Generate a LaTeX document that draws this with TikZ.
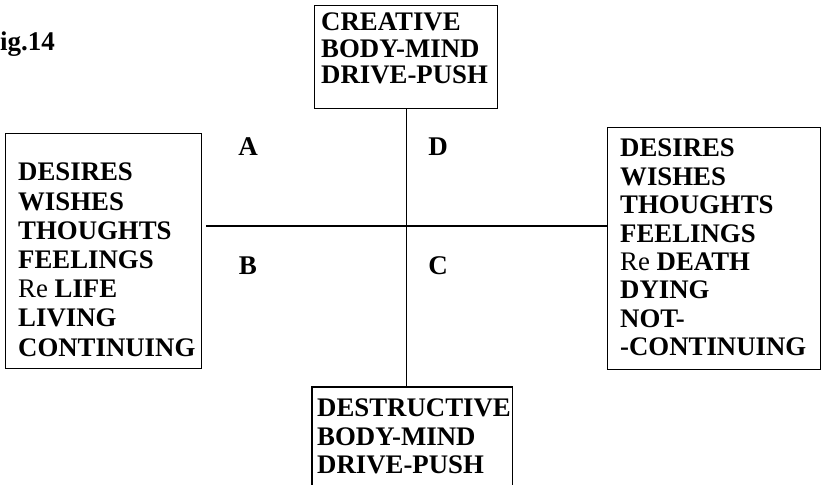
\documentclass[tikz,border=0pt]{standalone}
\usepackage{fontspec}
\setmainfont{Liberation Serif}
\begin{document}
\begin{tikzpicture}[x=1pt,y=-1pt,
  box/.style={draw, line width=1.4pt, inner sep=0pt, anchor=north west},
  words/.style={inner sep=0pt, anchor=north west, align=left, font=\fontsize{26.8}{#1}\selectfont\bfseries},
  letter/.style={inner sep=0pt, font=\fontsize{27}{28}\selectfont\bfseries},
  link/.style={line width=1.4pt}]
\useasboundingbox (0,0) rectangle (823,485);
% caption
\node[letter, anchor=base west] (fig) at (0,50) {ig.14};
% boxes
\node[box, minimum width=183pt, minimum height=103pt] (top) at (314,5) {};
\node[box, minimum width=196pt, minimum height=235pt] (left) at (5,133) {};
\node[box, minimum width=213pt, minimum height=242pt] (right) at (607,127) {};
\node[inner sep=0pt, minimum width=200pt, minimum height=98pt, anchor=north west] (bottom) at (312,387) {};
\draw[link] (bottom.south west) -- (bottom.north west) -- (bottom.north east) -- (bottom.south east);
% texts
\node[words=26.5] (toptext) at (321,13) {CREATIVE\\BODY-MIND\\DRIVE-PUSH};
\node[words=29.2] (lefttext) at (18,163) {DESIRES\\WISHES\\THOUGHTS\\FEELINGS\\{\mdseries Re} LIFE\\LIVING\\CONTINUING};
\node[words=28.4] (righttext) at (620,139) {DESIRES\\WISHES\\THOUGHTS\\FEELINGS\\{\mdseries Re} DEATH\\DYING\\NOT-\\-CONTINUING};
\node[words=28.5] (bottomtext) at (317,399) {DESTRUCTIVE\\BODY-MIND\\DRIVE-PUSH};
% quadrant letters
\node[letter] (A) at (248,147) {A};
\node[letter] (D) at (438,147) {D};
\node[letter] (B) at (248,266) {B};
\node[letter] (C) at (438,266) {C};
% axes
\coordinate (hy) at (0,226);
\draw[link] (top.south) -- (top.south |- bottom.north);
\draw[link] ([xshift=4pt]left.east |- hy) -- (right.west |- hy);
\end{tikzpicture}
\end{document}
